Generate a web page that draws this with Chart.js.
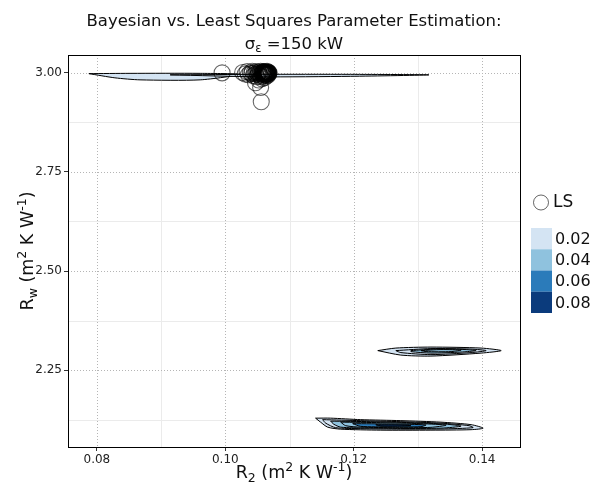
<!DOCTYPE html>
<html>
<head>
<meta charset="utf-8">
<script src="https://cdn.jsdelivr.net/npm/chart.js@4.4.1/dist/chart.umd.min.js"></script>
<style>
  html, body { margin: 0; padding: 0; background: #fff; }
  #wrap { width: 593px; height: 491px; }
</style>
</head>
<body>
<div id="wrap"><canvas id="myChart" width="593" height="491"></canvas></div>
<script>
// axis ticks
const xTickVals = [0.08, 0.10, 0.12, 0.14];
const xTickLabels = ['0.08', '0.10', '0.12', '0.14'];
const xMinorVals = [0.09, 0.11, 0.13];
const yTickVals = [2.25, 2.50, 2.75, 3.00];
const yTickLabels = ['2.25', '2.50', '2.75', '3.00'];
const yMinorVals = [2.125, 2.375, 2.625, 2.875];

// density levels (legend)
const levelLabels = ['0.02', '0.04', '0.06', '0.08'];
const levelColors = ['#d4e4f3', '#8fc2de', '#2b7bba', '#0b3b7c'];

// least squares estimates [R2, Rw]
const lsPoints = [
    [0.0995, 3.000], [0.1047, 2.975], [0.1055, 2.963], [0.1056, 2.927], [0.1052, 2.982],
    [0.1027, 3.001], [0.1031, 2.997], [0.1034, 3.003], [0.1036, 2.995], [0.1039, 3.000],
    [0.1041, 2.998], [0.1042, 3.004], [0.1044, 2.993], [0.1045, 3.001], [0.1047, 2.997],
    [0.1048, 3.003], [0.1049, 2.990], [0.1050, 3.000], [0.1051, 2.996], [0.1052, 3.002],
    [0.1053, 2.999], [0.1054, 2.994], [0.1055, 3.004], [0.1056, 3.000], [0.1057, 2.997],
    [0.1058, 3.002], [0.1059, 2.999], [0.1060, 3.001], [0.1060, 2.995], [0.1061, 3.003],
    [0.1062, 2.998], [0.1062, 3.000], [0.1063, 2.996], [0.1063, 3.002], [0.1064, 2.999],
    [0.1064, 3.001], [0.1065, 2.997], [0.1065, 3.004], [0.1066, 3.000], [0.1066, 2.998],
    [0.1067, 3.002], [0.1067, 2.995], [0.1068, 3.000], [0.1068, 2.999], [0.1059, 2.992],
    [0.1061, 2.988], [0.1057, 2.985], [0.1060, 3.000], [0.1061, 2.999], [0.1062, 3.001],
    [0.1063, 3.000], [0.1064, 2.998], [0.1065, 3.001], [0.1066, 3.002], [0.1067, 2.999],
    [0.1058, 3.000], [0.1059, 3.003], [0.1062, 2.994], [0.1065, 2.993], [0.1056, 2.990]
];

// posterior density contours, outer ring first; level = index into levelColors
const contours = [
    // near Rw = 3.0
    { level: 0, ring: [[0.07875, 2.998], [0.08516, 2.9987], [0.09609, 2.9987], [0.10234, 2.9962], [0.09609, 2.9823], [0.08672, 2.9823], [0.08281, 2.9874]] },
    { level: 0, ring: [[0.09141, 2.9949], [0.10547, 2.9962], [0.11953, 2.9962], [0.13172, 2.9949], [0.11953, 2.9912], [0.10547, 2.9899]] },
    // near Rw = 2.30
    { level: 0, ring: [[0.12375, 2.2992], [0.12656, 2.3056], [0.13203, 2.3081], [0.13984, 2.3056], [0.14297, 2.2992], [0.13984, 2.2929], [0.13203, 2.2854], [0.12734, 2.2879]] },
    { level: 0, ring: [[0.12656, 2.2992], [0.13203, 2.3043], [0.13828, 2.3030], [0.14063, 2.2992], [0.13828, 2.2942], [0.13203, 2.2891], [0.12734, 2.2942]] },
    { level: 1, ring: [[0.12891, 2.2992], [0.13281, 2.3030], [0.13750, 2.3018], [0.13906, 2.2992], [0.13672, 2.2955], [0.13203, 2.2929], [0.12891, 2.2967]] },
    { level: 1, ring: [[0.13047, 2.2992], [0.13359, 2.3018], [0.13672, 2.3005], [0.13516, 2.2967], [0.13125, 2.2967]] },
    // near Rw = 2.11
    { level: 0, ring: [[0.11406, 2.1288], [0.11641, 2.1288], [0.12109, 2.1250], [0.12734, 2.1225], [0.13359, 2.1187], [0.13828, 2.1124], [0.14016, 2.1035], [0.13828, 2.0997], [0.13203, 2.0985], [0.12422, 2.0985], [0.11797, 2.1010], [0.11594, 2.1061], [0.11484, 2.1187]] },
    { level: 0, ring: [[0.11516, 2.1250], [0.12109, 2.1225], [0.12734, 2.1199], [0.13359, 2.1162], [0.13797, 2.1098], [0.13859, 2.1048], [0.13359, 2.1015], [0.12734, 2.1010], [0.12109, 2.1023], [0.11719, 2.1048], [0.11563, 2.1162]] },
    { level: 1, ring: [[0.11641, 2.1212], [0.12266, 2.1199], [0.12891, 2.1174], [0.13438, 2.1136], [0.13672, 2.1086], [0.13359, 2.1035], [0.12734, 2.1028], [0.12188, 2.1040], [0.11797, 2.1061], [0.11688, 2.1136]] },
    { level: 1, ring: [[0.11797, 2.1187], [0.12422, 2.1174], [0.13047, 2.1149], [0.13438, 2.1111], [0.13203, 2.1056], [0.12656, 2.1048], [0.12109, 2.1061], [0.11875, 2.1098]] },
    { level: 2, ring: [[0.11984, 2.1149], [0.12578, 2.1141], [0.13125, 2.1116], [0.13047, 2.1073], [0.12578, 2.1068], [0.12109, 2.1081]] },
    { level: 3, ring: [[0.12344, 2.1121], [0.12734, 2.1116], [0.12891, 2.1098], [0.12656, 2.1086], [0.12422, 2.1091]] }
];

const FONT = "'DejaVu Sans', sans-serif";

// draw text with sub/superscripts: segments of {t, s (size), dy}
function richWidth(ctx, segs) {
    let w = 0;
    segs.forEach(sg => { ctx.font = sg.s + 'px ' + FONT; w += ctx.measureText(sg.t).width; });
    return w;
}
function drawRich(ctx, segs, cx, baseY) {
    let x = cx - richWidth(ctx, segs) / 2;
    ctx.textAlign = 'left';
    ctx.textBaseline = 'alphabetic';
    segs.forEach(sg => {
        ctx.font = sg.s + 'px ' + FONT;
        ctx.fillText(sg.t, x, baseY + (sg.dy || 0));
        x += ctx.measureText(sg.t).width;
    });
}

const ggDecor = {
    id: 'ggDecor',
    beforeDraw(chart) {
        const ctx = chart.ctx;
        ctx.save();
        ctx.fillStyle = '#fff';
        ctx.fillRect(0, 0, chart.width, chart.height);
        ctx.restore();
    },
    beforeDatasetsDraw(chart) {
        const { ctx, chartArea: a, scales: { x, y } } = chart;
        ctx.save();
        ctx.lineWidth = 1;
        // minor grid
        ctx.strokeStyle = '#ebebeb';
        ctx.setLineDash([]);
        xMinorVals.forEach(v => {
            const px = Math.round(x.getPixelForValue(v)) + 0.5;
            ctx.beginPath(); ctx.moveTo(px, a.top); ctx.lineTo(px, a.bottom); ctx.stroke();
        });
        yMinorVals.forEach(v => {
            const py = Math.round(y.getPixelForValue(v)) + 0.5;
            ctx.beginPath(); ctx.moveTo(a.left, py); ctx.lineTo(a.right, py); ctx.stroke();
        });
        // major grid, dotted
        ctx.strokeStyle = '#b5b5b5';
        ctx.setLineDash([1, 2]);
        xTickVals.forEach(v => {
            const px = Math.round(x.getPixelForValue(v)) + 0.5;
            ctx.beginPath(); ctx.moveTo(px, a.top); ctx.lineTo(px, a.bottom); ctx.stroke();
        });
        yTickVals.forEach(v => {
            const py = Math.round(y.getPixelForValue(v)) + 0.5;
            ctx.beginPath(); ctx.moveTo(a.left, py); ctx.lineTo(a.right, py); ctx.stroke();
        });
        ctx.restore();
    },
    afterDatasetsDraw(chart) {
        const { ctx, chartArea: a } = chart;
        ctx.save();
        ctx.strokeStyle = '#000';
        ctx.lineWidth = 1;
        ctx.strokeRect(Math.round(a.left) + 0.5, Math.round(a.top) + 0.5,
            Math.round(a.right - a.left), Math.round(a.bottom - a.top));
        ctx.restore();
    },
    afterDraw(chart) {
        const { ctx, chartArea: a } = chart;
        const cx = (a.left + a.right) / 2;
        ctx.save();
        ctx.fillStyle = '#111';
        // title
        drawRich(ctx, [{ t: 'Bayesian vs. Least Squares Parameter Estimation:', s: 16.5 }], cx, 26);
        drawRich(ctx, [{ t: 'σ', s: 16.5 }, { t: 'ε', s: 11.5, dy: 3 }, { t: ' =150 kW', s: 16.5 }], cx, 49);
        // x title
        drawRich(ctx, [
            { t: 'R', s: 17.5 }, { t: '2', s: 12.5, dy: 4 }, { t: ' (m', s: 17.5 }, { t: '2', s: 12.5, dy: -7 },
            { t: ' K W', s: 17.5 }, { t: '-1', s: 12.5, dy: -7 }, { t: ')', s: 17.5 }
        ], cx, 478);
        // y title
        ctx.save();
        ctx.translate(33, (a.top + a.bottom) / 2);
        ctx.rotate(-Math.PI / 2);
        drawRich(ctx, [
            { t: 'R', s: 17.5 }, { t: 'w', s: 12.5, dy: 4 }, { t: ' (m', s: 17.5 }, { t: '2', s: 12.5, dy: -7 },
            { t: ' K W', s: 17.5 }, { t: '-1', s: 12.5, dy: -7 }, { t: ')', s: 17.5 }
        ], 0, 0);
        ctx.restore();

        // legend: LS
        ctx.strokeStyle = 'rgba(0,0,0,0.6)';
        ctx.lineWidth = 1;
        ctx.beginPath(); ctx.arc(541, 202.5, 7.5, 0, Math.PI * 2); ctx.stroke();
        ctx.fillStyle = '#111';
        ctx.font = '17px ' + FONT;
        ctx.textAlign = 'left';
        ctx.textBaseline = 'middle';
        ctx.fillText('LS', 553, 203);
        // legend: density levels
        const boxH = 21.25;
        levelLabels.forEach((lab, i) => {
            const top = 228 + i * boxH;
            ctx.fillStyle = levelColors[i];
            ctx.fillRect(531, top, 21, boxH);
            ctx.fillStyle = '#111';
            ctx.font = '16px ' + FONT;
            ctx.fillText(lab, 555, top + boxH / 2 + 1);
        });
        ctx.restore();
    }
};

// contour datasets (outer drawn first, inner on top)
const datasets = [];
let ord = 1000;
contours.forEach(c => {
    const pts = c.ring.map(p => ({ x: p[0], y: p[1] }));
    pts.push({ x: c.ring[0][0], y: c.ring[0][1] });
    datasets.push({
        data: pts,
        showLine: true,
        fill: 'shape',
        backgroundColor: levelColors[c.level],
        borderColor: '#000',
        borderWidth: 1,
        tension: 0.25,
        pointRadius: 0,
        order: ord--
    });
});
datasets.push({
    label: 'LS',
    data: lsPoints.map(p => ({ x: p[0], y: p[1] })),
    pointStyle: 'circle',
    pointRadius: 8,
    pointBackgroundColor: 'rgba(0,0,0,0)',
    pointBorderColor: 'rgba(0,0,0,0.6)',
    pointBorderWidth: 1.1,
    showLine: false,
    order: 0
});

const ctx = document.getElementById('myChart').getContext('2d');
const chart = new Chart(ctx, {
    type: 'scatter',
    data: { datasets: datasets },
    plugins: [ggDecor],
    options: {
        responsive: false,
        animation: false,
        devicePixelRatio: 1,
        layout: { padding: { top: 55, right: 73, left: 0, bottom: 0 } },
        plugins: { legend: { display: false }, tooltip: { enabled: false }, title: { display: false } },
        scales: {
            x: {
                type: 'linear',
                min: 0.0755,
                max: 0.1459,
                afterBuildTicks: s => { s.ticks = xTickVals.map(v => ({ value: v })); },
                afterFit: s => { s.height = 44; },
                grid: { drawOnChartArea: false, drawTicks: true, tickLength: 4, tickColor: '#333' },
                border: { display: false },
                ticks: {
                    padding: 2,
                    maxRotation: 0,
                    autoSkip: false,
                    color: '#222',
                    font: { family: FONT, size: 12 },
                    callback: v => xTickLabels[xTickVals.indexOf(v)]
                }
            },
            y: {
                type: 'linear',
                min: 2.056,
                max: 3.045,
                afterBuildTicks: s => { s.ticks = yTickVals.map(v => ({ value: v })); },
                afterFit: s => { s.width = 68; },
                grid: { drawOnChartArea: false, drawTicks: true, tickLength: 4, tickColor: '#333' },
                border: { display: false },
                ticks: {
                    padding: 2,
                    autoSkip: false,
                    color: '#222',
                    font: { family: FONT, size: 12 },
                    callback: v => yTickLabels[yTickVals.indexOf(v)]
                }
            }
        }
    }
});
</script>
</body>
</html>
